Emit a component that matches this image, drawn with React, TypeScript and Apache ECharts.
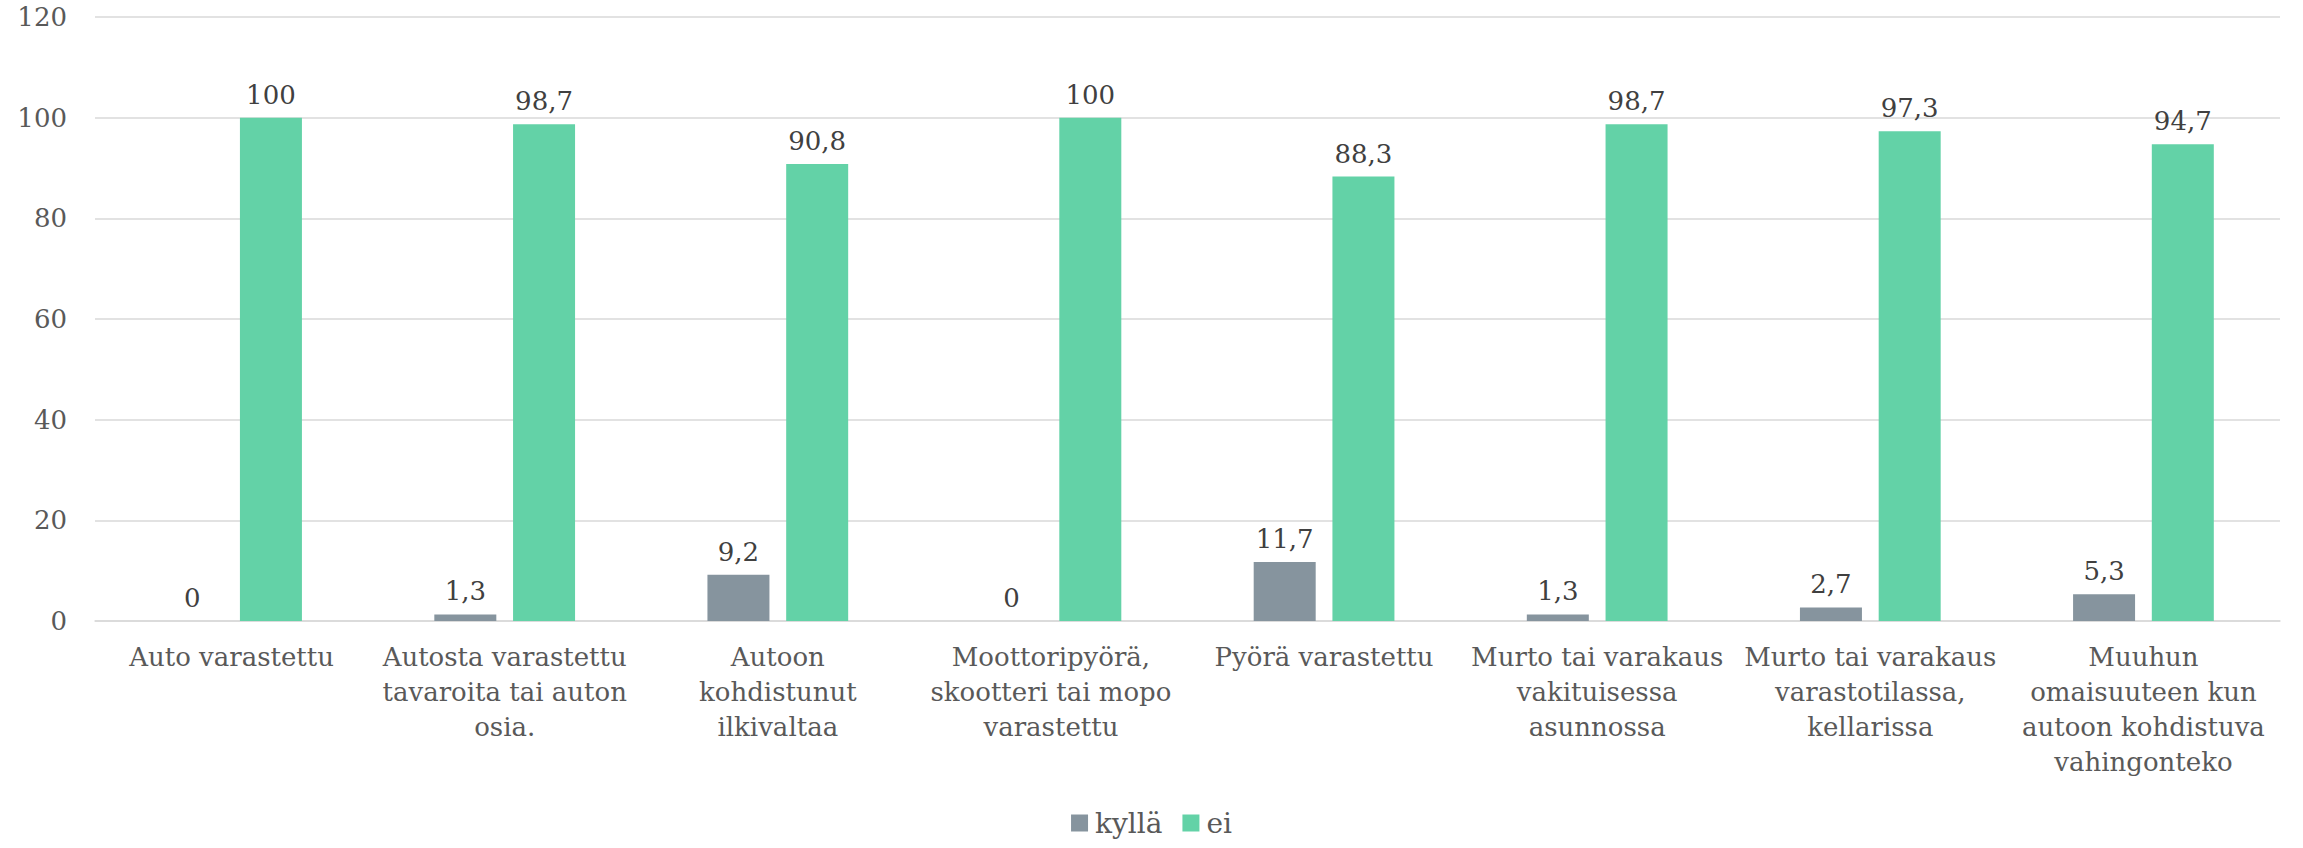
import React, { useEffect, useRef } from "react";
import * as echarts from "echarts";

const categories = [
  "Auto varastettu",
  "Autosta varastettu\ntavaroita tai auton\nosia.",
  "Autoon\nkohdistunut\nilkivaltaa",
  "Moottoripyörä,\nskootteri tai mopo\nvarastettu",
  "Pyörä varastettu",
  "Murto tai varakaus\nvakituisessa\nasunnossa",
  "Murto tai varakaus\nvarastotilassa,\nkellarissa",
  "Muuhun\nomaisuuteen kun\nautoon kohdistuva\nvahingonteko",
];
const kylla = [0, 1.3, 9.2, 0, 11.7, 1.3, 2.7, 5.3];
const ei = [100, 98.7, 90.8, 100, 88.3, 98.7, 97.3, 94.7];
const seriesNames = ["kyllä", "ei"];

const FONT = "DejaVu Serif";

export default function App() {
  const ref = useRef<HTMLDivElement>(null);
  useEffect(() => {
    if (!ref.current) return;
    const chart = echarts.init(ref.current, null, { renderer: "svg" });
    const fmt = (p: any) => String(p.value).replace(".", ",");
    const label = {
      show: true,
      position: "top",
      distance: 10,
      formatter: fmt,
      fontFamily: FONT,
      fontSize: 26,
      color: "#404040",
    };
    chart.setOption({
      animation: false,
      backgroundColor: "#ffffff",
      textStyle: { fontFamily: FONT },
      grid: { left: 95, right: 23, top: 17, bottom: 227, containLabel: false },
      legend: {
        bottom: 6,
        left: "center",
        itemWidth: 17,
        itemHeight: 17,
        itemGap: 20,
        icon: "rect",
        textStyle: { fontFamily: FONT, fontSize: 28, color: "#595959", padding: [0, 0, 0, 2] },
        data: seriesNames,
      },
      xAxis: {
        type: "category",
        data: categories,
        axisLine: { show: true, lineStyle: { color: "#d9d9d9", width: 1.5 } },
        axisTick: { show: false },
        axisLabel: {
          interval: 0,
          margin: 18,
          fontFamily: FONT,
          fontSize: 26,
          lineHeight: 35,
          color: "#595959",
          align: "center",
        },
      },
      yAxis: {
        type: "value",
        min: 0,
        max: 120,
        interval: 20,
        axisLine: { show: false },
        axisTick: { show: false },
        splitLine: { lineStyle: { color: "#d9d9d9", width: 1.5 } },
        axisLabel: {
          margin: 28,
          fontFamily: FONT,
          fontSize: 26,
          color: "#595959",
        },
      },
      series: [
        {
          name: seriesNames[0],
          type: "bar",
          data: kylla,
          barWidth: 62,
          barGap: "27%",
          itemStyle: { color: "#86949e" },
          label,
        },
        {
          name: seriesNames[1],
          type: "bar",
          data: ei,
          barWidth: 62,
          barGap: "27%",
          itemStyle: { color: "#63d2a7" },
          label,
        },
      ],
    });
    return () => chart.dispose();
  }, []);
  return (
    <div
      ref={ref}
      style={{ position: "fixed", left: 0, top: 0, width: 2303, height: 848 }}
    />
  );
}
